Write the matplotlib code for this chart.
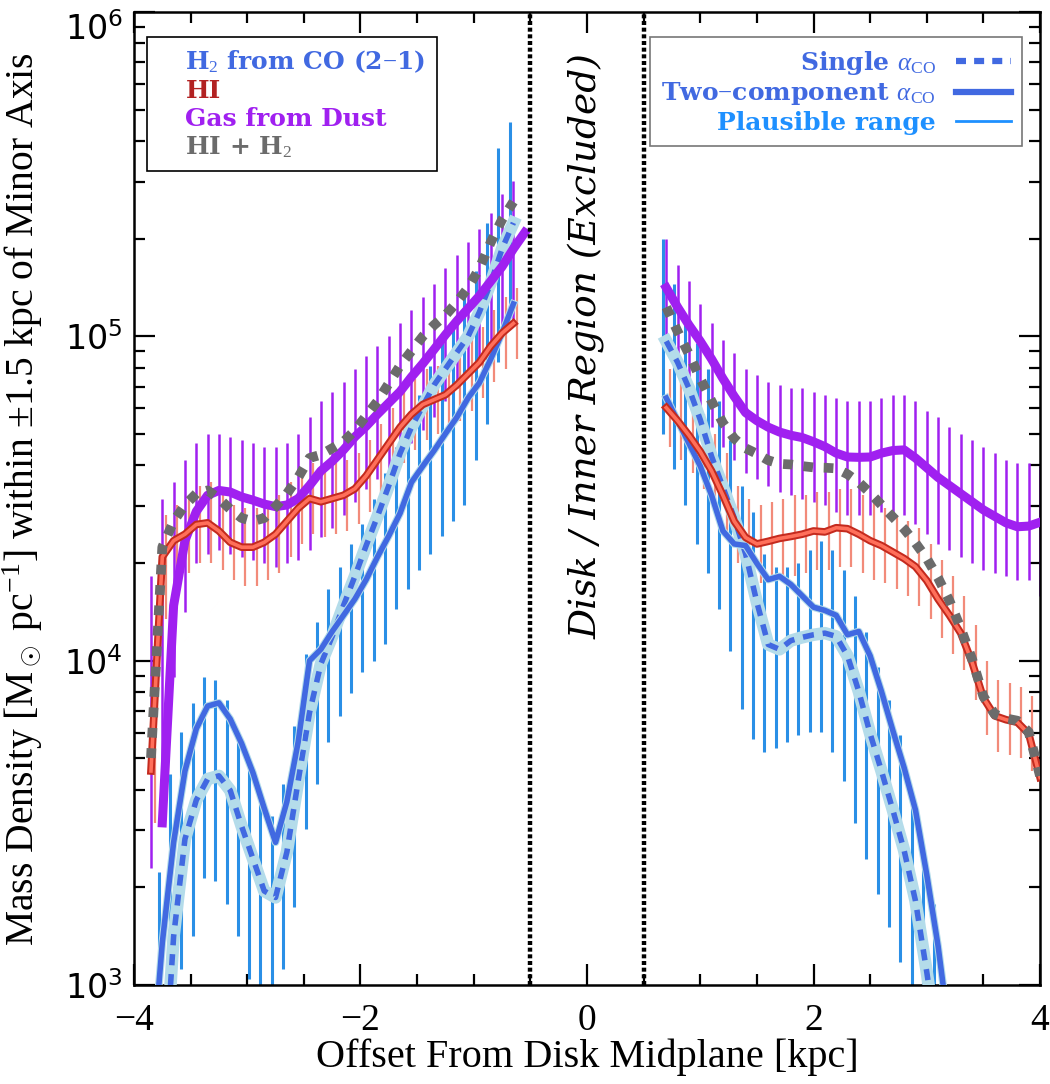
import numpy as np
import matplotlib
matplotlib.use('Agg')
import matplotlib.pyplot as plt
from matplotlib.lines import Line2D
from matplotlib.ticker import MultipleLocator, LogLocator, NullFormatter

plt.rcParams['mathtext.fontset'] = 'custom'
plt.rcParams['mathtext.rm'] = 'Liberation Serif'
plt.rcParams['mathtext.it'] = 'Liberation Serif:italic'
plt.rcParams['mathtext.bf'] = 'Liberation Serif:bold'

nan = np.nan

# offsets [kpc], left (south) and right (north) of the excluded disk
xl = np.round(np.arange(-3.85, -0.5, 0.1), 2)
xr = np.round(np.arange(0.7, 4.05, 0.1), 2)

# all values are log10(mass density / Msun pc^-1)
# ---- left side ----
hi_l = [3.66, 4.32, 4.37, 4.39, 4.42, 4.425, 4.40, 4.365, 4.35, 4.35, 4.365, 4.39, 4.43, 4.47, 4.50, 4.49, 4.50,
        4.51, 4.53, 4.57, 4.62, 4.67, 4.72, 4.76, 4.79, 4.805, 4.82, 4.85, 4.885, 4.92, 4.97, 5.01, 5.04, nan]
tot_l = [3.70, 4.35, 4.43, 4.48, 4.515, 4.525, 4.50, 4.467, 4.44, 4.43, 4.44, 4.475, 4.515, 4.565, 4.625, 4.635, 4.655,
         4.675, 4.71, 4.755, 4.80, 4.855, 4.91, 4.955, 5.00, 5.035, 5.065, 5.105, 5.15, 5.21, 5.29, 5.36, 5.415, nan]
dust_l = [nan, 3.50, 4.17, 4.37, 4.46, 4.51, 4.525, 4.52, 4.505, 4.495, 4.483, 4.475, 4.48, 4.50, 4.54, 4.585, 4.615,
          4.65, 4.69, 4.723, 4.76, 4.795, 4.83, 4.875, 4.916, 4.96, 5.005, 5.047, 5.086, 5.125, 5.17, 5.215, 5.27, 5.32]
two_l = [2.7, 3.13, 3.44, 3.66, 3.79, 3.86, 3.87, 3.82, 3.745, 3.655, 3.545, 3.44, 3.565, 3.75, 4.0, 4.035, 4.09,
         4.14, 4.19, 4.25, 4.32, 4.385, 4.455, 4.55, 4.60, 4.648, 4.70, 4.75, 4.81, 4.857, 4.93, 5.01, 5.10, nan]
one_l = [2.3, 2.6, 3.15, 3.45, 3.57, 3.635, 3.645, 3.60, 3.49, 3.39, 3.29, 3.27, 3.41, 3.63, 3.84, 3.99, 4.075,
         4.17, 4.26, 4.355, 4.445, 4.54, 4.64, 4.72, 4.785, 4.85, 4.90, 4.95, 5.00, 5.075, 5.165, 5.27, 5.35, nan]
h2lo_l = [nan, 2.6, 2.9, 3.05, 3.15, 3.33, 3.32, 3.25, 3.15, 3.02, 2.95, 2.95, 3.05, 3.24, 3.48, 3.62, 3.75,
          3.83, 3.90, 3.965, 4.00, 4.05, 4.16, 4.22, 4.28, 4.33, 4.385, 4.43, 4.48, 4.62, 4.73, 4.92, 5.06, nan]
h2hi_l = [nan, 3.35, 3.65, 3.78, 3.87, 3.95, 3.94, 3.88, 3.77, 3.68, 3.56, 3.52, 3.62, 3.80, 4.02, 4.12, 4.22,
          4.29, 4.36, 4.42, 4.50, 4.58, 4.66, 4.74, 4.82, 4.91, 4.98, 5.04, 5.12, 5.20, 5.35, 5.58, 5.66, nan]
dustlo_l = [3.36, 3.62, 3.95, 4.15, 4.30, 4.33, 4.34, 4.33, 4.32, 4.31, 4.30, 4.29, 4.30, 4.31, 4.34, 4.38, 4.41,
            4.45, 4.49, 4.53, 4.56, 4.59, 4.63, 4.67, 4.71, 4.75, 4.80, 4.84, 4.88, 4.92, 4.96, 5.00, 5.05, nan]
dusthi_l = [4.26, 4.50, 4.55, 4.62, 4.67, 4.70, 4.70, 4.69, 4.68, 4.67, 4.66, 4.66, 4.67, 4.70, 4.75, 4.80, 4.83,
            4.86, 4.90, 4.94, 4.97, 5.00, 5.04, 5.08, 5.12, 5.16, 5.21, 5.25, 5.29, 5.33, 5.38, 5.44, 5.48, nan]
hilo_l = [3.50, 4.13, 4.25, 4.27, 4.30, 4.30, 4.28, 4.25, 4.23, 4.23, 4.25, 4.27, 4.32, 4.36, 4.39, 4.38, 4.39,
          4.40, 4.42, 4.46, 4.51, 4.56, 4.61, 4.65, 4.68, 4.70, 4.71, 4.74, 4.77, 4.81, 4.86, 4.90, 4.93, nan]
hihi_l = [3.90, 4.45, 4.48, 4.50, 4.54, 4.55, 4.52, 4.48, 4.47, 4.47, 4.48, 4.51, 4.55, 4.58, 4.61, 4.60, 4.61,
          4.62, 4.64, 4.68, 4.73, 4.78, 4.83, 4.87, 4.90, 4.91, 4.93, 4.96, 4.99, 5.03, 5.08, 5.12, 5.15, nan]

# ---- right side ----
hi_r = [4.78, 4.74, 4.695, 4.645, 4.585, 4.51, 4.43, 4.38, 4.36, 4.368, 4.377, 4.383, 4.39, 4.40, 4.397, 4.41, 4.407,
        4.39, 4.37, 4.355, 4.335, 4.315, 4.29, 4.247, 4.19, 4.14, 4.085, 3.995, 3.885, 3.83, 3.818, 3.81, 3.775, 3.64]
tot_r = [5.09, 5.015, 4.945, 4.87, 4.80, 4.733, 4.685, 4.655, 4.638, 4.618, 4.607, 4.605, 4.60, 4.596, 4.595, 4.593,
         4.575, 4.55, 4.517, 4.48, 4.443, 4.406, 4.363, 4.315, 4.255, 4.185, 4.10, 4.005, 3.89, 3.835, 3.822, 3.815,
         3.78, 3.645]
dust_r = [5.15, 5.09, 5.035, 4.985, 4.93, 4.87, 4.815, 4.765, 4.74, 4.72, 4.705, 4.695, 4.688, 4.675, 4.66, 4.64,
          4.628, 4.627, 4.628, 4.64, 4.648, 4.65, 4.625, 4.595, 4.565, 4.54, 4.515, 4.49, 4.465, 4.445, 4.425, 4.413,
          4.415, 4.427]
two_r = [4.81, 4.74, 4.67, 4.60, 4.51, 4.40, 4.36, 4.355, 4.30, 4.25, 4.26, 4.235, 4.20, 4.165, 4.155, 4.14, 4.08,
         4.09, 4.015, 3.905, 3.785, 3.67, 3.54, 3.34, 3.12, 2.85, 2.6, nan, nan, nan, nan, nan, nan, nan]
one_r = [4.985, 4.92, 4.84, 4.743, 4.63, 4.535, 4.44, 4.33, 4.18, 4.05, 4.035, 4.062, 4.072, 4.08, 4.085, 4.075,
         4.015, 3.905, 3.775, 3.66, 3.54, 3.415, 3.26, 3.04, 2.8, 2.5, nan, nan, nan, nan, nan, nan, nan, nan]
h2lo_r = [4.70, 4.59, 4.48, 4.36, 4.27, 4.16, 4.03, 3.85, 3.76, 3.72, 3.73, 3.75, 3.77, 3.78, 3.78, 3.72, 3.63,
          3.50, 3.39, 3.28, 3.18, 3.07, 2.90, 2.75, 2.6, 2.4, nan, nan, nan, nan, nan, nan, nan, nan]
h2hi_r = [5.30, 5.16, 5.07, 4.98, 4.90, 4.80, 4.68, 4.54, 4.46, 4.33, 4.29, 4.29, 4.30, 4.34, 4.37, 4.34, 4.28,
          4.20, 4.09, 3.98, 3.88, 3.77, 3.58, 3.42, 3.25, 3.0, nan, nan, nan, nan, nan, nan, nan, nan]
dustlo_r = [4.98, 4.92, 4.86, 4.78, 4.72, 4.66, 4.62, 4.58, 4.56, 4.54, 4.52, 4.51, 4.50, 4.49, 4.48, 4.46, 4.45,
            4.45, 4.45, 4.46, 4.46, 4.45, 4.42, 4.39, 4.36, 4.34, 4.32, 4.30, 4.28, 4.27, 4.26, 4.25, 4.25, 4.20]
dusthi_r = [5.30, 5.22, 5.17, 5.10, 5.04, 4.99, 4.95, 4.90, 4.88, 4.86, 4.85, 4.84, 4.84, 4.83, 4.82, 4.81, 4.80,
            4.80, 4.80, 4.81, 4.82, 4.82, 4.80, 4.77, 4.75, 4.72, 4.70, 4.68, 4.66, 4.64, 4.62, 4.61, 4.61, 4.60]
hilo_r = [4.66, 4.62, 4.58, 4.53, 4.47, 4.40, 4.30, 4.25, 4.24, 4.25, 4.26, 4.26, 4.27, 4.28, 4.28, 4.29, 4.29,
          4.27, 4.25, 4.24, 4.22, 4.20, 4.17, 4.13, 4.07, 4.02, 3.97, 3.88, 3.77, 3.72, 3.71, 3.70, 3.66, 3.53]
hihi_r = [4.90, 4.86, 4.81, 4.76, 4.70, 4.64, 4.54, 4.50, 4.48, 4.49, 4.50, 4.51, 4.51, 4.52, 4.52, 4.53, 4.53,
          4.51, 4.49, 4.47, 4.45, 4.43, 4.41, 4.36, 4.31, 4.26, 4.20, 4.11, 4.00, 3.94, 3.93, 3.92, 3.89, 3.75]

left_labels = ['H$_2$ from CO (2$-$1)', 'HI', 'Gas from Dust', 'HI + H$_2$']
right_labels = [r'Single $\alpha_{\rm CO}$', r'Two$-$component $\alpha_{\rm CO}$', 'Plausible range']
ytick_vals = [1e3, 1e4, 1e5, 1e6]

c_blue = '#4169e1'
c_bar = '#2a8fe6'
c_halo = '#b4dcea'
c_purple = '#a020f0'
c_red = '#c42a1e'
c_red_in = '#ff6f5a'
c_red_bar = '#f28b7a'
c_gray = '#6b6b6b'

fig = plt.figure(figsize=(10.5, 10.84), dpi=100)
ax = fig.add_axes([0.1276, 0.0913, 0.8629, 0.8976])

for x, lo, hi, dlo, dhi, hlo, hhi in [(xl, h2lo_l, h2hi_l, dustlo_l, dusthi_l, hilo_l, hihi_l),
                                      (xr, h2lo_r, h2hi_r, dustlo_r, dusthi_r, hilo_r, hihi_r)]:
    ax.vlines(x, 10 ** np.array(dlo), 10 ** np.array(dhi), colors=c_purple, lw=1.8, zorder=2)
    ax.vlines(x + 0.033, 10 ** np.array(hlo), 10 ** np.array(hhi), colors=c_red_bar, lw=1.6, zorder=2.1)
    ax.vlines(x - 0.033, 10 ** np.array(lo), 10 ** np.array(hi), colors=c_bar, lw=2.2, zorder=2.2)

for x, one, two, hi, dust, tot in [(xl, one_l, two_l, hi_l, dust_l, tot_l),
                                   (xr, one_r, two_r, hi_r, dust_r, tot_r)]:
    ax.plot(x, 10 ** np.array(one), color=c_halo, lw=9, zorder=3)
    ax.plot(x, 10 ** np.array(one), color=c_blue, lw=4, ls=(0, (2, 1.6)), zorder=3.1)
    ax.plot(x, 10 ** np.array(two), color=c_halo, lw=5.5, zorder=3.2)
    ax.plot(x, 10 ** np.array(two), color=c_blue, lw=4, zorder=3.3)
    ax.plot(x, 10 ** np.array(dust), color=c_purple, lw=6.5, zorder=3.4)
    ax.plot(x, 10 ** np.array(hi), color=c_red, lw=5.5, zorder=3.5)
    ax.plot(x, 10 ** np.array(hi), color=c_red_in, lw=2.6, zorder=3.6)
    ax.plot(x, 10 ** np.array(tot), color=c_gray, lw=7, ls=(0, (1, 1.1)), zorder=3.7)

for xv in (-0.5, 0.5):
    ax.axvline(xv, color='black', lw=3.2, ls=(0, (0.9, 0.6)), zorder=6)

ax.text(0, 10 ** 4.97, 'Disk / Inner Region (Excluded)', rotation=90, ha='center', va='center',
        family='DejaVu Serif', style='italic', fontsize=27, zorder=7)

ax.set_yscale('log')
ax.set_xlim(-4, 4)
ax.set_ylim(1e3, 1e6)
ax.xaxis.set_major_locator(MultipleLocator(2))
ax.xaxis.set_minor_locator(MultipleLocator(0.5))
ax.set_yticks(ytick_vals)
ax.yaxis.set_minor_locator(LogLocator(base=10, subs=np.arange(2, 10), numticks=20))
ax.yaxis.set_minor_formatter(NullFormatter())
ax.tick_params(which='both', direction='in', top=True, right=True, width=1.6)
ax.tick_params(which='major', length=15)
ax.tick_params(which='minor', length=8)
ax.tick_params(axis='x', labelsize=27, pad=13)
ax.tick_params(axis='y', labelsize=24, pad=8)
for lab in ax.get_xticklabels():
    lab.set_family('Liberation Serif')
ax.get_yticklabels()[-1].set_va('top')
for sp in ax.spines.values():
    sp.set_linewidth(1.8)

ax.set_xlabel('Offset From Disk Midplane [kpc]', family='Liberation Serif', fontsize=29)
ax.set_ylabel(r'Mass Density [M$_\odot$ pc$^{-1}$] within $\pm$1.5 kpc of Minor Axis',
              family='Liberation Serif', fontsize=28.5)
ax.xaxis.set_label_coords(0.5, -0.055)
ax.yaxis.set_label_coords(-0.098, 0.5)

lprop = dict(family='DejaVu Serif', weight='bold', size=18)
hl = [Line2D([], [], lw=0) for _ in left_labels]
leg1 = ax.legend(hl, left_labels, loc='upper left', bbox_to_anchor=(0.014, 0.974), prop=lprop,
                 labelcolor=[c_blue, '#b22222', c_purple, c_gray], fancybox=False, framealpha=1,
                 edgecolor='black', handlelength=0.9, handletextpad=0.2, labelspacing=0.15,
                 borderpad=0.45, borderaxespad=0)
leg1.get_frame().set_linewidth(1.2)
leg1.set_zorder(8)
ax.add_artist(leg1)

hr = [Line2D([], [], color=c_blue, lw=4.5, ls=(0, (1.6, 1.3))),
      Line2D([], [], color=c_blue, lw=4.5),
      Line2D([], [], color='#1e90ff', lw=2)]
leg2 = ax.legend(hr, right_labels, loc='upper right', bbox_to_anchor=(0.980, 0.974), prop=lprop,
                 labelcolor=[c_blue, c_blue, '#1e90ff'], markerfirst=False, fancybox=False,
                 framealpha=1, edgecolor='#777777', handlelength=2.2, handletextpad=0.8,
                 labelspacing=0.15, borderpad=0.45, borderaxespad=0)
leg2.get_frame().set_linewidth(1.2)
leg2.set_zorder(8)

fig.savefig('out.png', dpi=100)
